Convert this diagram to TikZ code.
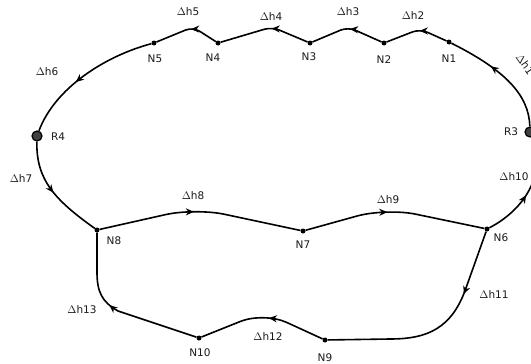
\documentclass[tikz,border=0pt]{standalone}
\usepackage{fontspec}
\setmainfont{DejaVu Sans}
\usetikzlibrary{decorations.markings,arrows.meta}
\tikzset{
  edge/.style={line width=1.6pt, black},
  arrowat/.style={postaction={decorate},decoration={markings,mark=at position #1 with {\arrow{Stealth[length=8pt,width=7pt,inset=2.5pt]}}}},
  dot/.style={circle,fill=black,inner sep=0pt,minimum size=5pt},
  res/.style={circle,draw=black,line width=1.2pt,fill=black!75,inner sep=0pt,minimum size=10pt},
  lbl/.style={font=\fontsize{10.5}{12}\selectfont, inner sep=0pt, text=black!90},
}
\begin{document}
\begin{tikzpicture}[x=1pt,y=-1pt]
\useasboundingbox (0,0) rectangle (531,364);
% nodes
\node[dot] (N1) at (449,42) {};
\node[dot] (N2) at (384,43) {};
\node[dot] (N3) at (310,43) {};
\node[dot] (N4) at (218,43) {};
\node[dot] (N5) at (154,43) {};
\node[res] (R4) at (37,136) {};
\node[res] (R3) at (530,132) {};
\node[dot] (N8) at (97,230) {};
\node[dot] (N7) at (303,231) {};
\node[dot] (N6) at (487,229) {};
\node[dot] (N9) at (325,340) {};
\node[dot] (N10) at (199,338) {};
% node labels
\node[lbl] (lN1) at (449,59) {N1};
\node[lbl] (lN2) at (384,60) {N2};
\node[lbl] (lN3) at (309,57) {N3};
\node[lbl] (lN4) at (213,58) {N4};
\node[lbl] (lN5) at (155,59) {N5};
\node[lbl] (lR4) at (58,137) {R4};
\node[lbl] (lR3) at (511,132) {R3};
\node[lbl] (lN8) at (114,241) {N8};
\node[lbl] (lN7) at (303,245) {N7};
\node[lbl] (lN6) at (501,238) {N6};
\node[lbl] (lN9) at (325,358) {N9};
\node[lbl] (lN10) at (200,353) {N10};
% edges
\draw[edge,arrowat=0.62] (R3) .. controls (529,95) and (505,70) .. (N1);
\draw[edge,arrowat=0.45,rounded corners=8pt] (N1) -- (420,29) -- (N2);
\draw[edge,arrowat=0.46,rounded corners=8pt] (N2) -- (348,27) -- (N3);
\draw[edge,arrowat=0.42,rounded corners=8pt] (N3) -- (272,27) -- (N4);
\draw[edge,arrowat=0.43,rounded corners=8pt] (N4) -- (193,27) -- (N5);
\draw[edge,arrowat=0.58] (N5) .. controls (105,56) and (55,88) .. (R4);
\draw[edge,arrowat=0.5] (R4) .. controls (36,180) and (55,200) .. (N8);
\draw[edge,arrowat=0.47,rounded corners=30pt] (N8) -- (195,208) -- (N7);
\draw[edge,arrowat=0.46,rounded corners=30pt] (N7) -- (386,208) -- (N6);
\draw[edge,arrowat=0.45] (N6) .. controls (520,212) and (548,178) .. (R3);
\draw[edge,arrowat=0.3] (N6) -- (466,288) .. controls (452,328) and (428,339) .. (390,339) -- (N9);
\draw[edge,arrowat=0.45,rounded corners=25pt] (N9) -- (264,312) -- (N10);
\draw[edge,arrowat=0.55] (N10) -- (118,311) .. controls (102,302) and (97,292) .. (97,272) -- (N8);
% edge labels
\node[lbl,rotate=-55] (d1) at (525,64) {$\Delta$h1};
\node[lbl] (d2) at (413,16) {$\Delta$h2};
\node[lbl] (d3) at (348,12) {$\Delta$h3};
\node[lbl] (d4) at (271,17) {$\Delta$h4};
\node[lbl] (d5) at (188,12) {$\Delta$h5};
\node[lbl] (d6) at (47,72) {$\Delta$h6};
\node[lbl] (d7) at (21,179) {$\Delta$h7};
\node[lbl] (d8) at (193,196) {$\Delta$h8};
\node[lbl] (d9) at (388,200) {$\Delta$h9};
\node[lbl] (d10) at (514,177) {$\Delta$h10};
\node[lbl] (d11) at (494,295) {$\Delta$h11};
\node[lbl] (d12) at (268,337) {$\Delta$h12};
\node[lbl] (d13) at (82,310) {$\Delta$h13};
\end{tikzpicture}
\end{document}
